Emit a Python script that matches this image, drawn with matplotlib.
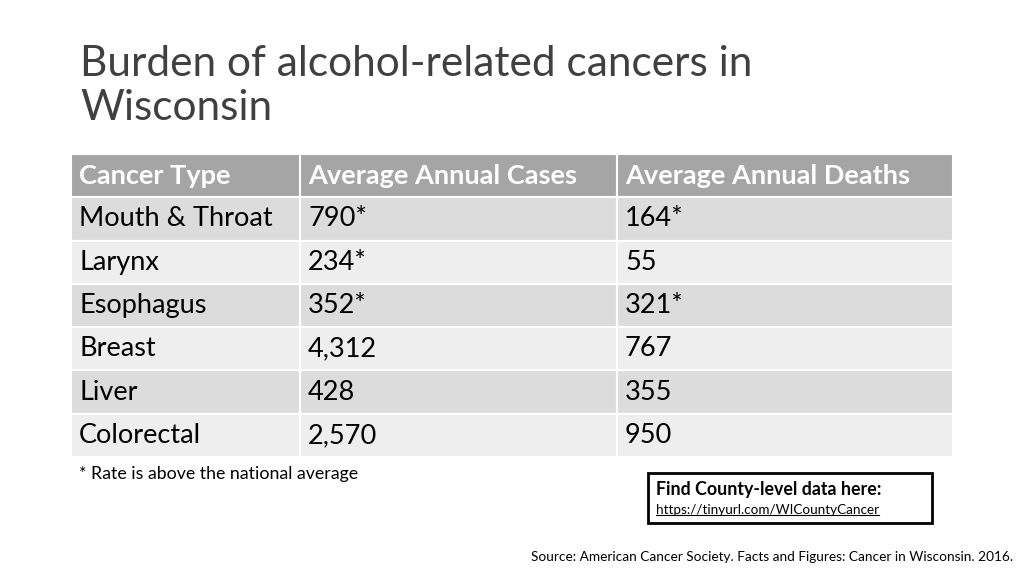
import matplotlib
matplotlib.use("Agg")
import matplotlib.pyplot as plt
from matplotlib.patches import Rectangle

plt.rcParams['font.family'] = ['Lato', 'DejaVu Sans']

title = "Burden of alcohol-related cancers in\nWisconsin"
headers = ["Cancer Type", "Average Annual Cases", "Average Annual Deaths"]
cancer_types = ["Mouth & Throat", "Larynx", "Esophagus", "Breast", "Liver", "Colorectal"]
annual_cases = ["790*", "234*", "352*", "4,312", "428", "2,570"]
annual_deaths = ["164*", "55", "321*", "767", "355", "950"]
footnote = "* Rate is above the national average"
box_title = "Find County-level data here:"
box_url = "https://tinyurl.com/WICountyCancer"
source = "Source: American Cancer Society. Facts and Figures: Cancer in Wisconsin. 2016."

W, H = 1024, 576
fig = plt.figure(figsize=(W / 100, H / 100), dpi=100)
ax = fig.add_axes([0, 0, 1, 1])
ax.set_xlim(0, W)
ax.set_ylim(H, 0)
ax.axis("off")

ax.text(80, 86, title, fontsize=30.5, color="#404040",
        va="center", ha="left", linespacing=1.22)

# table layout (pixels)
x0, x1 = 71, 953
y0, y1 = 154, 457
col_px = [229, 317, 336]
cells = [headers] + [list(r) for r in zip(cancer_types, annual_cases, annual_deaths)]
tbl = ax.table(cellText=cells, colWidths=[c / sum(col_px) for c in col_px],
               cellLoc="left",
               bbox=[x0 / W, 1 - y1 / H, (x1 - x0) / W, (y1 - y0) / H])
tbl.auto_set_font_size(False)
for (r, c), cell in tbl.get_celld().items():
    cell.set_edgecolor("white")
    cell.set_linewidth(1.5)
    cell.PAD = 8 / col_px[c]
    txt = cell.get_text()
    txt.set_fontsize(19.5)
    if r == 0:
        cell.set_facecolor("#a5a5a5")
        txt.set_color("white")
        txt.set_fontweight("bold")
    else:
        cell.set_facecolor("#dcdcdc" if r % 2 == 1 else "#eeeeee")
        txt.set_color("black")

ax.text(79, 474, footnote, fontsize=12.8, va="center", ha="left", color="black")

ax.add_patch(Rectangle((648, 473), 284, 50, fill=False, edgecolor="black", lw=2))
ax.text(656, 490, box_title, fontsize=12.8, fontweight="bold", va="center", ha="left")
url = ax.text(656, 510, box_url, fontsize=9.7, va="center", ha="left")

ax.text(1013, 557, source, fontsize=9.8, va="center", ha="right")

fig.canvas.draw()
bb = url.get_window_extent().transformed(ax.transData.inverted())
yb = max(bb.y0, bb.y1) - 1
ax.plot([bb.x0, bb.x1], [yb, yb], color="black", lw=0.8)

fig.savefig("out.png", dpi=100)
